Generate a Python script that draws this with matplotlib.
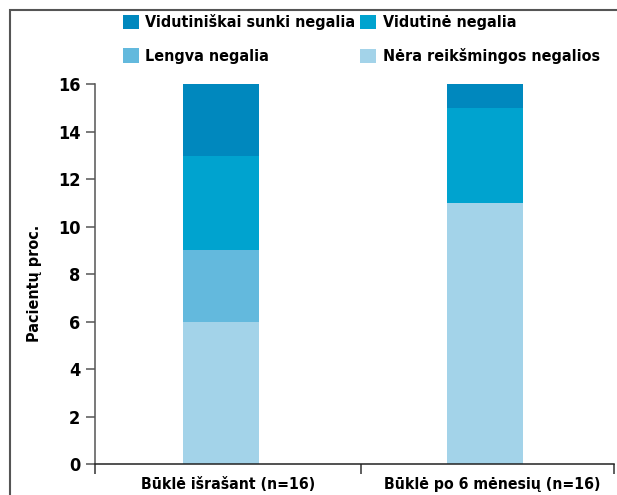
import matplotlib
matplotlib.use("Agg")
import matplotlib.pyplot as plt
from matplotlib.patches import Rectangle

plt.rcParams['font.family'] = ['DejaVu Sans']
plt.rcParams['font.stretch'] = 'condensed'
plt.rcParams['font.weight'] = 'bold'

categories = ['Būklė išrašant (n=16)', 'Būklė po 6 mėnesių (n=16)']
series_names = ['Nėra reikšmingos negalios', 'Lengva negalia',
                'Vidutinė negalia', 'Vidutiniškai sunki negalia']
nera = [6, 11]
lengva = [3, 0]
vidutine = [4, 4]
sunki = [3, 1]
colors = ['#a3d3e9', '#63b9dd', '#00a3cf', '#0088be']

fig = plt.figure(figsize=(6.17, 4.95), dpi=100)
ax = fig.add_axes([0.154, 0.0626, 0.841, 0.767])

x = [0, 1]
bottom = [0, 0]
bars = {}
for name, vals, c in zip(series_names, [nera, lengva, vidutine, sunki], colors):
    bars[name] = ax.bar(x, vals, width=0.29, bottom=bottom, color=c, label=name)
    bottom = [b + v for b, v in zip(bottom, vals)]

ax.set_ylim(0, 16)
ax.set_xlim(-0.477, 1.489)
ax.set_yticks(range(0, 17, 2))
ax.tick_params(axis='y', length=6.5, width=1.1, color='#555555', labelsize=13, pad=4)

# category labels under bars, ticks at the boundaries
ax.set_xticks([-0.477, 0.53, 1.489])
ax.set_xticklabels([])
ax.tick_params(axis='x', length=7.5, width=1.1, color='#333333')
for xi, lab in zip(x, categories):
    ax.text(xi + 0.027, -0.55, lab, ha='center', va='top', fontsize=11.3, fontweight='bold')

for s in ['top', 'right']:
    ax.spines[s].set_visible(False)
ax.spines['left'].set_color('#555555')
ax.spines['left'].set_linewidth(1.1)
ax.spines['bottom'].set_color('#222222')
ax.spines['bottom'].set_linewidth(1.1)

ax.set_ylabel('Pacientų proc.', fontsize=11.5, fontweight='bold')
ax.yaxis.set_label_coords(-0.102, 0.476)

order = ['Vidutiniškai sunki negalia', 'Vidutinė negalia',
         'Lengva negalia', 'Nėra reikšmingos negalios']
handles = [bars[n] for n in order]
# legend is filled column-wise: reorder so rows read as in the original
handles = [handles[0], handles[2], handles[1], handles[3]]
labels = [order[0], order[2], order[1], order[3]]
fig.legend(handles, labels, ncol=2, loc='upper left', bbox_to_anchor=(0.176, 1.0),
           frameon=False, fontsize=11.5, handlelength=1.0, handleheight=1.0,
           handletextpad=0.4, columnspacing=0.3, labelspacing=1.12)

fig.patches.append(Rectangle((10 / 617, -0.1), 1.2, 1.1 - 10 / 495, transform=fig.transFigure,
                             fill=False, edgecolor='#555555', linewidth=1.5))

plt.savefig('out.png', dpi=100)
